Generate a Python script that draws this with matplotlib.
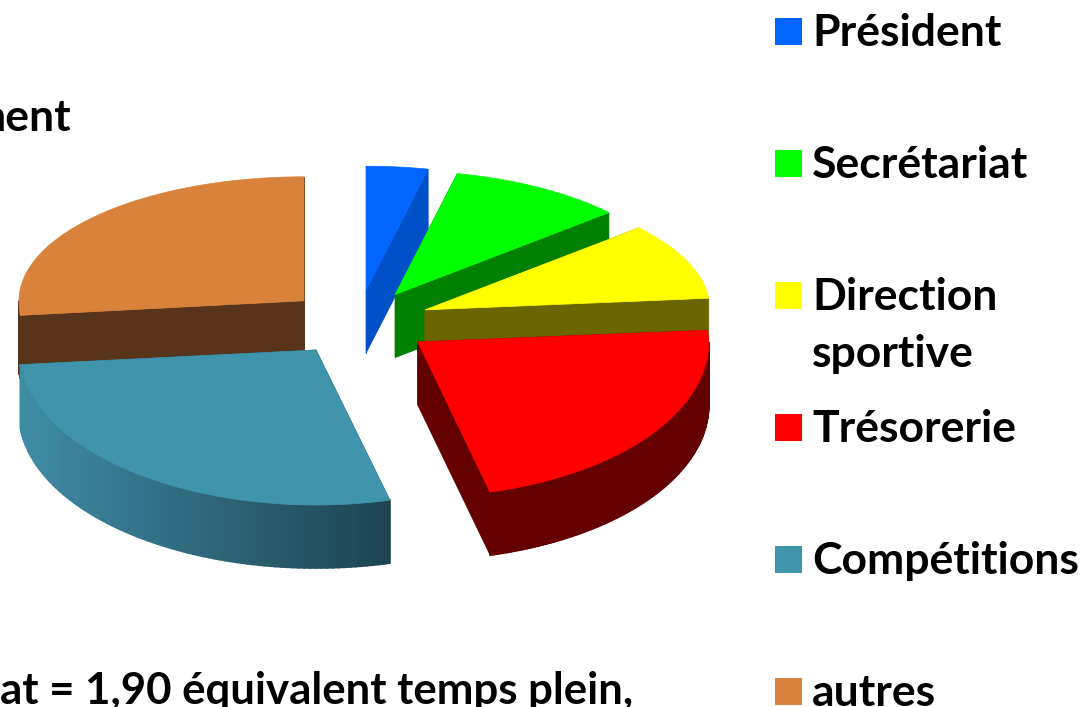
import numpy as np
import matplotlib
matplotlib.use("Agg")
import matplotlib.pyplot as plt
from matplotlib.colors import to_rgb
from matplotlib.patches import Rectangle

# Data
categories = ["Président", "Secrétariat", "Direction\nsportive", "Trésorerie", "Compétitions", "autres"]
values = [3.5, 10, 10, 22.5, 27.5, 26.5]

# Colours
top_colors = ["#0066ff", "#00ff00", "#ffff00", "#ff0000", "#4095ad", "#d9823c"]
side_colors = ["#0050c8", "#008000", "#6b6500", "#640000", "#1d4450", "#57341a"]
wall_left_colors = ["#0050c8", "#008000", "#6b6500", "#640000", "#3f8ca6", "#57341a"]

plt.rcParams["font.family"] = ["Lato", "DejaVu Sans"]

# Pie geometry in pixels
CX, CY = 358, 323
SLICE_RX = [285, 285, 285, 291, 297, 285]  # perspective makes the front slices wider
RY_BACK, RY_FRONT = 124, 155
EXPLODE_X, EXPLODE_Y = 73, 33
DEPTH = 63
DRAW_ORDER = [5, 0, 1, 2, 3, 4]
FONT_SIZE = 32


def rim(theta, tip, rx):
    # clockwise from twelve o'clock, front half looks bigger
    theta = np.asarray(theta, dtype=float)
    ry = np.where(np.cos(theta) > 0, RY_BACK, RY_FRONT)
    return tip[0] + rx * np.sin(theta), tip[1] - ry * np.cos(theta)


def draw_slice(ax, start, end, tip, rx, top, side, wall_left):
    ts = np.linspace(start, end, 120)
    xs, ys = rim(ts, tip, rx)

    # cut faces
    for t in (start, end):
        x, y = rim(t, tip, rx)
        ax.fill([tip[0], x, x, tip[0]], [tip[1], y, y + DEPTH, tip[1] + DEPTH],
                color=side, lw=0.5)

    # outer wall, only the part facing us
    front = np.linspace(max(start, np.pi / 2), min(end, 3 * np.pi / 2), 90)
    if front[-1] > front[0]:
        wx, wy = rim(front, tip, rx)
        left, right = np.array(to_rgb(wall_left)), np.array(to_rgb(side))
        for i in range(len(front) - 1):
            mix = (wx[i] - wx.min()) / max(wx.max() - wx.min(), 1)
            c = left + (right - left) * mix
            ax.fill([wx[i], wx[i + 1], wx[i + 1], wx[i]],
                    [wy[i], wy[i + 1], wy[i + 1] + DEPTH, wy[i] + DEPTH],
                    color=c, lw=1.2)

    ax.fill(np.r_[tip[0], xs], np.r_[tip[1], ys], color=top, lw=0.5)


fig = plt.figure(figsize=(10.86, 7.07), dpi=100)
ax = fig.add_axes([0, 0, 1, 1])
ax.set_xlim(0, 1086)
ax.set_ylim(707, 0)
ax.axis("off")

edges = np.r_[0, np.cumsum(values)] / np.sum(values) * 2 * np.pi
for i in DRAW_ORDER:
    mid = (edges[i] + edges[i + 1]) / 2
    tip = (CX + EXPLODE_X * np.sin(mid), CY - EXPLODE_Y * np.cos(mid))
    draw_slice(ax, edges[i], edges[i + 1], tip, SLICE_RX[i], top_colors[i], side_colors[i], wall_left_colors[i])

# Legend
for i, name in enumerate(categories):
    y = 31 + 132 * i
    ax.add_patch(Rectangle((775, y - 13), 27, 27, color=top_colors[i], lw=0))
    ax.text(812, y - 18, name, fontsize=FONT_SIZE, fontweight="bold", va="top", ha="left",
            color="black", linespacing=1.5)

# Cut off text at the edges
ax.text(71, 131, "ment", fontsize=FONT_SIZE, fontweight="bold", ha="right", va="baseline")
ax.text(633, 704, "at = 1,90 équivalent temps plein,", fontsize=31.5, fontweight="bold",
        ha="right", va="baseline")

fig.savefig("out.png", dpi=100)
